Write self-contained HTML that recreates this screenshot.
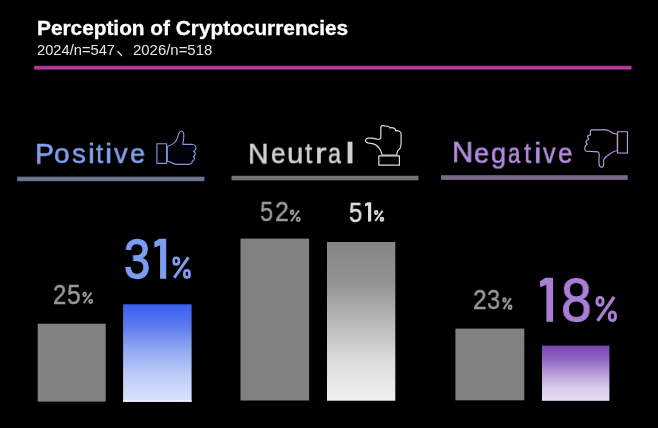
<!DOCTYPE html>
<html><head><meta charset="utf-8">
<style>
html,body{margin:0;padding:0;background:#000;}
body{width:658px;height:428px;overflow:hidden;position:relative;font-family:"Liberation Sans",sans-serif;}
.t{position:absolute;white-space:nowrap;line-height:1;transform-origin:0 0;will-change:transform;}
svg{position:absolute;left:0;top:0;}
</style></head><body>
<svg width="658" height="428" viewBox="0 0 658 428">
<defs>
<linearGradient id="gb" x1="0" y1="0" x2="0" y2="1">
<stop offset="0" stop-color="#3a5ff0"/><stop offset="0.2" stop-color="#5877ee"/><stop offset="0.45" stop-color="#8fa6f2"/><stop offset="0.72" stop-color="#bccbf8"/><stop offset="1" stop-color="#dae4fd"/>
</linearGradient>
<linearGradient id="gw" x1="0" y1="0" x2="0" y2="1">
<stop offset="0" stop-color="#858585"/><stop offset="0.25" stop-color="#939393"/><stop offset="0.5" stop-color="#b8b8b8"/><stop offset="0.75" stop-color="#dcdcdc"/><stop offset="1" stop-color="#f0f0f0"/>
</linearGradient>
<linearGradient id="gp" x1="0" y1="0" x2="0" y2="1">
<stop offset="0" stop-color="#7a44b6"/><stop offset="0.25" stop-color="#8f66c2"/><stop offset="0.5" stop-color="#b99bd9"/><stop offset="0.75" stop-color="#d6c8ea"/><stop offset="1" stop-color="#e8def4"/>
</linearGradient>
</defs>
<rect x="34.2" y="65.8" width="597.3" height="3.8" fill="#b23a9a"/>
<rect x="17.2" y="176.7" width="187.2" height="4.5" fill="#6e748a"/>
<rect x="231.5" y="175.8" width="187" height="4.5" fill="#747474"/>
<rect x="441" y="175.2" width="186.7" height="4.7" fill="#786a84"/>
<rect x="37.7" y="323.7" width="68" height="77.9" fill="#818181"/>
<rect x="123.1" y="304.3" width="68.5" height="97.5" fill="url(#gb)"/>
<rect x="123.1" y="400.3" width="68.5" height="1.5" fill="#eef2ff"/>
<rect x="240.5" y="238.6" width="68.6" height="161.9" fill="#818181"/>
<rect x="327" y="242" width="68.3" height="158.7" fill="url(#gw)"/>
<rect x="455.4" y="328.6" width="68.9" height="71.7" fill="#818181"/>
<rect x="542" y="345.6" width="67.4" height="55.2" fill="url(#gp)"/>
<!-- thumbs up -->
<g fill="#02020a" stroke="#8a93dc" stroke-width="1.15" stroke-linejoin="round">
<rect x="156.9" y="143.7" width="9.7" height="19.6"/>
<path d="M167.3 146.5 Q171.5 145 174.2 142.9 Q176.6 140.6 177.5 137.6 L178.9 133.2 Q180 130.9 181.5 131 Q183.5 131.3 183.7 133.8 Q184 136.5 183.6 139 L182.8 144.3 L191.8 144.3 Q195.8 144.6 195.8 147.8 Q195.8 150.6 193.6 151.3 Q196 152.8 195 155 Q194.5 156.2 193.3 156.4 Q195.2 158.2 193.8 160.2 Q193 161 192.2 161.1 Q192.6 164 188.6 164.4 L177 164.4 Q174 164.1 171.8 162.7 Q170 161.6 167.3 161.2 Z"/>
</g>
<!-- neutral -->
<g fill="#000" stroke="#dcdcdc" stroke-width="1.2" stroke-linejoin="round">
<rect x="378.8" y="155.8" width="20.6" height="9.4"/>
<path d="M382 155 Q381.2 150 378.7 147.5 Q376.2 144.6 373.5 143.9 L367.8 142.9 Q365.4 142.3 365.5 140.3 Q365.9 138.2 368.2 138.1 L371.7 138.1 L377.3 139.2 Q380.8 139.6 380.8 137.6 L380.8 127.6 Q381 125.4 383.1 125.6 L388.3 126.5 Q389.8 126.8 389.9 127.9 Q391.6 127.2 393.2 127.9 L394.6 128.6 Q395.7 129.3 395.6 130.8 Q397.6 130.5 399.4 131.3 Q401.2 132.2 401.1 134.2 L401.1 143.4 Q401 146.5 400.2 148.1 Q398.1 150.2 397.4 151.6 Q396.9 153.2 396.8 155 Z"/>
</g>
<!-- thumbs down -->
<g fill="#000" stroke="#bea2e0" stroke-width="1.1" stroke-linejoin="round">
<rect x="617.6" y="131.8" width="9.8" height="21.2"/>
<path d="M617.3 134.3 L612.9 133.2 Q609 130.5 606.3 129.9 L591.5 129.9 Q590.4 130 590.4 131.5 L590.4 134.9 Q587.5 135.5 587.7 136.8 Q588 138.5 588.8 139.3 Q585.8 140.5 586 142 Q586.5 143.5 587.1 144.2 Q584.9 145.5 584.9 147 L584.9 149.7 Q585 151.3 586.6 151.3 L598.1 151.9 Q599.2 152.5 599.2 154.6 L598.9 161.2 Q599 165 599.7 166.1 Q600.5 167.4 601.9 167.2 Q603.6 166.5 603.6 165.6 L603.6 160.1 Q605 157 607.4 155.7 L612.9 151.9 Q615 151 617.3 150.8 Z"/>
</g>
<path d="M117.8 51.5 Q120 53.5 121.6 55.6" stroke="#e6e6e6" stroke-width="1.3" fill="none" stroke-linecap="round"/>
<g fill="none" stroke="#999999" stroke-width="1.8"><rect x="83.30" y="292.70" width="2.69" height="3.45" rx="1.35" ry="1.35"/><rect x="89.19" y="299.78" width="3.01" height="3.32" rx="1.51" ry="1.51"/><line x1="91.39" y1="292.58" x2="83.68" y2="303.22" stroke-width="1.98"/></g>
<g fill="none" stroke="#7b9ef0" stroke-width="2.7"><rect x="173.75" y="257.75" width="5.03" height="6.71" rx="2.51" ry="2.51"/><rect x="184.42" y="270.29" width="5.03" height="7.16" rx="2.51" ry="2.51"/><line x1="188.41" y1="257.43" x2="174.24" y2="277.77" stroke-width="2.97"/></g>
<g fill="none" stroke="#999999" stroke-width="1.8"><rect x="290.70" y="210.50" width="2.78" height="3.53" rx="1.39" ry="1.39"/><rect x="296.69" y="217.69" width="3.11" height="3.41" rx="1.55" ry="1.55"/><line x1="298.96" y1="210.39" x2="291.11" y2="221.21" stroke-width="1.98"/></g>
<g fill="none" stroke="#e0e0e0" stroke-width="1.8"><rect x="375.00" y="210.90" width="2.44" height="3.27" rx="1.22" ry="1.22"/><rect x="380.56" y="217.74" width="2.75" height="3.16" rx="1.37" ry="1.37"/><line x1="382.58" y1="210.78" x2="375.31" y2="221.02" stroke-width="1.98"/></g>
<g fill="none" stroke="#999999" stroke-width="1.8"><rect x="503.30" y="298.20" width="2.40" height="3.62" rx="1.20" ry="1.20"/><rect x="508.80" y="305.51" width="2.70" height="3.49" rx="1.35" ry="1.35"/><line x1="510.80" y1="298.09" x2="503.60" y2="309.11" stroke-width="1.98"/></g>
<g fill="none" stroke="#a97fd6" stroke-width="3.0"><rect x="597.00" y="297.40" width="5.99" height="7.96" rx="2.99" ry="2.99"/><rect x="609.41" y="312.02" width="5.99" height="8.48" rx="2.99" ry="2.99"/><line x1="614.12" y1="297.06" x2="597.64" y2="320.84" stroke-width="3.30"/></g>
<polygon points="166.20,238.80 159.24,238.80 154.20,241.99 154.44,247.38 160.08,245.18 160.08,278.70 166.20,278.70" fill="#7b9ef0"/>
<polygon points="553.10,277.80 545.44,277.80 539.90,281.31 540.16,287.24 546.37,284.82 546.37,321.70 553.10,321.70" fill="#a97fd6"/>
<polygon points="371.20,202.30 367.60,202.30 365.00,203.84 365.12,206.43 368.04,205.37 368.04,221.50 371.20,221.50" fill="#e0e0e0"/></svg>

<div class="t" id="title" style="left:36.52px;top:17.74px;font-size:19px;font-weight:bold;color:#ffffff;transform:scale(1.0954,1.0735);-webkit-text-stroke:0.3px #ffffff;">Perception of Cryptocurrencies</div>
<div class="t" id="sub1" style="left:36.78px;top:43.28px;font-size:14px;font-weight:normal;color:#e6e6e6;transform:scale(1.0495,1.0276);">2024/n=547</div>
<div class="t" id="sub2" style="left:132.52px;top:43.34px;font-size:14px;font-weight:normal;color:#e6e6e6;transform:scale(1.0658,1.0247);">2026/n=518</div>
<div class="t" id="g25a" style="left:52.69px;top:281.80px;font-size:27px;font-weight:normal;color:#999999;transform:scale(0.8811,1.0000);-webkit-text-stroke:0.45px #999999;">2</div>
<div class="t" id="g25b" style="left:67.24px;top:281.80px;font-size:27px;font-weight:normal;color:#999999;transform:scale(0.9106,1.0000);-webkit-text-stroke:0.45px #999999;">5</div>
<div class="t" id="g52a" style="left:259.92px;top:198.80px;font-size:27px;font-weight:normal;color:#999999;transform:scale(0.8733,1.0000);-webkit-text-stroke:0.45px #999999;">5</div>
<div class="t" id="g52b" style="left:275.04px;top:198.90px;font-size:27px;font-weight:normal;color:#999999;transform:scale(0.9182,1.0000);-webkit-text-stroke:0.45px #999999;">2</div>
<div class="t" id="g51a" style="left:349.00px;top:199.51px;font-size:27px;font-weight:normal;color:#e0e0e0;transform:scale(0.8814,1.0000);-webkit-text-stroke:0.45px #e0e0e0;">5</div>
<div class="t" id="g23a" style="left:472.78px;top:286.80px;font-size:27px;font-weight:normal;color:#999999;transform:scale(0.9033,1.0000);-webkit-text-stroke:0.45px #999999;">2</div>
<div class="t" id="g23b" style="left:487.26px;top:287.40px;font-size:27px;font-weight:normal;color:#999999;transform:scale(0.8702,1.0000);-webkit-text-stroke:0.45px #999999;">3</div>
<div class="t" id="g31a" style="left:124.01px;top:232.15px;font-size:55px;font-weight:normal;color:#7b9ef0;transform:scale(0.8579,1.0000);-webkit-text-stroke:1.3px #7b9ef0;">3</div>
<div class="t" id="g18b" style="left:560.93px;top:269.05px;font-size:62px;font-weight:normal;color:#a97fd6;transform:scale(0.8904,1.0000);-webkit-text-stroke:1.1px #a97fd6;">8</div>
<div class="t" id="pos0" style="left:34.62px;top:138.63px;font-size:30px;font-weight:normal;color:#84a0ee;transform:scale(0.9398,0.9870);-webkit-text-stroke:0.55px #84a0ee;">P</div>
<div class="t" id="pos1" style="left:54.16px;top:140.11px;font-size:30px;font-weight:normal;color:#84a0ee;transform:scale(0.9320,0.9173);-webkit-text-stroke:0.55px #84a0ee;">o</div>
<div class="t" id="pos2" style="left:71.86px;top:140.11px;font-size:30px;font-weight:normal;color:#84a0ee;transform:scale(0.9241,0.9173);-webkit-text-stroke:0.55px #84a0ee;">s</div>
<div class="t" id="pos3" style="left:87.57px;top:140.11px;font-size:30px;font-weight:normal;color:#84a0ee;transform:scale(1.0453,0.9173);-webkit-text-stroke:0.55px #84a0ee;">i</div>
<div class="t" id="pos4" style="left:96.25px;top:140.11px;font-size:30px;font-weight:normal;color:#84a0ee;transform:scale(0.8576,0.9173);-webkit-text-stroke:0.55px #84a0ee;">t</div>
<div class="t" id="pos5" style="left:105.21px;top:140.11px;font-size:30px;font-weight:normal;color:#84a0ee;transform:scale(1.0778,0.9173);-webkit-text-stroke:0.55px #84a0ee;">i</div>
<div class="t" id="pos6" style="left:114.17px;top:140.11px;font-size:30px;font-weight:normal;color:#84a0ee;transform:scale(0.9108,0.9173);-webkit-text-stroke:0.55px #84a0ee;">v</div>
<div class="t" id="pos7" style="left:129.89px;top:140.11px;font-size:30px;font-weight:normal;color:#84a0ee;transform:scale(0.9002,0.9173);-webkit-text-stroke:0.55px #84a0ee;">e</div>
<div class="t" id="neu0" style="left:248.24px;top:139.25px;font-size:30px;font-weight:normal;color:#d2d2d2;transform:scale(0.9455,0.9800);-webkit-text-stroke:0.55px #d2d2d2;">N</div>
<div class="t" id="neu1" style="left:270.86px;top:139.17px;font-size:30px;font-weight:normal;color:#d2d2d2;transform:scale(0.8693,0.9638);-webkit-text-stroke:0.55px #d2d2d2;">e</div>
<div class="t" id="neu2" style="left:286.63px;top:139.17px;font-size:30px;font-weight:normal;color:#d2d2d2;transform:scale(0.9848,0.9638);-webkit-text-stroke:0.55px #d2d2d2;">u</div>
<div class="t" id="neu3" style="left:304.78px;top:139.17px;font-size:30px;font-weight:normal;color:#d2d2d2;transform:scale(0.8645,0.9638);-webkit-text-stroke:0.55px #d2d2d2;">t</div>
<div class="t" id="neu4" style="left:314.94px;top:139.17px;font-size:30px;font-weight:normal;color:#d2d2d2;transform:scale(1.1543,0.9638);-webkit-text-stroke:0.55px #d2d2d2;">r</div>
<div class="t" id="neu5" style="left:328.43px;top:139.17px;font-size:30px;font-weight:normal;color:#d2d2d2;transform:scale(0.7743,0.9638);-webkit-text-stroke:0.55px #d2d2d2;">a</div>
<div class="t" id="neu6" style="left:344.87px;top:139.17px;font-size:30px;font-weight:normal;color:#d2d2d2;transform:scale(1.5035,0.9638);-webkit-text-stroke:0.55px #d2d2d2;">l</div>
<div class="t" id="neg0" style="left:451.75px;top:136.87px;font-size:30px;font-weight:normal;color:#b38be0;transform:scale(0.9745,1.0000);-webkit-text-stroke:0.55px #b38be0;">N</div>
<div class="t" id="neg1" style="left:474.11px;top:139.12px;font-size:30px;font-weight:normal;color:#b38be0;transform:scale(0.9000,0.9535);-webkit-text-stroke:0.55px #b38be0;">e</div>
<div class="t" id="neg2" style="left:490.73px;top:139.12px;font-size:30px;font-weight:normal;color:#b38be0;transform:scale(0.9064,0.9535);-webkit-text-stroke:0.55px #b38be0;">g</div>
<div class="t" id="neg3" style="left:508.37px;top:139.12px;font-size:30px;font-weight:normal;color:#b38be0;transform:scale(0.7332,0.9535);-webkit-text-stroke:0.55px #b38be0;">a</div>
<div class="t" id="neg4" style="left:524.13px;top:139.12px;font-size:30px;font-weight:normal;color:#b38be0;transform:scale(0.8581,0.9535);-webkit-text-stroke:0.55px #b38be0;">t</div>
<div class="t" id="neg5" style="left:533.81px;top:139.12px;font-size:30px;font-weight:normal;color:#b38be0;transform:scale(1.1116,0.9535);-webkit-text-stroke:0.55px #b38be0;">i</div>
<div class="t" id="neg6" style="left:542.67px;top:139.12px;font-size:30px;font-weight:normal;color:#b38be0;transform:scale(0.8423,0.9535);-webkit-text-stroke:0.55px #b38be0;">v</div>
<div class="t" id="neg7" style="left:557.82px;top:139.12px;font-size:30px;font-weight:normal;color:#b38be0;transform:scale(0.8612,0.9535);-webkit-text-stroke:0.55px #b38be0;">e</div>
</body></html>
